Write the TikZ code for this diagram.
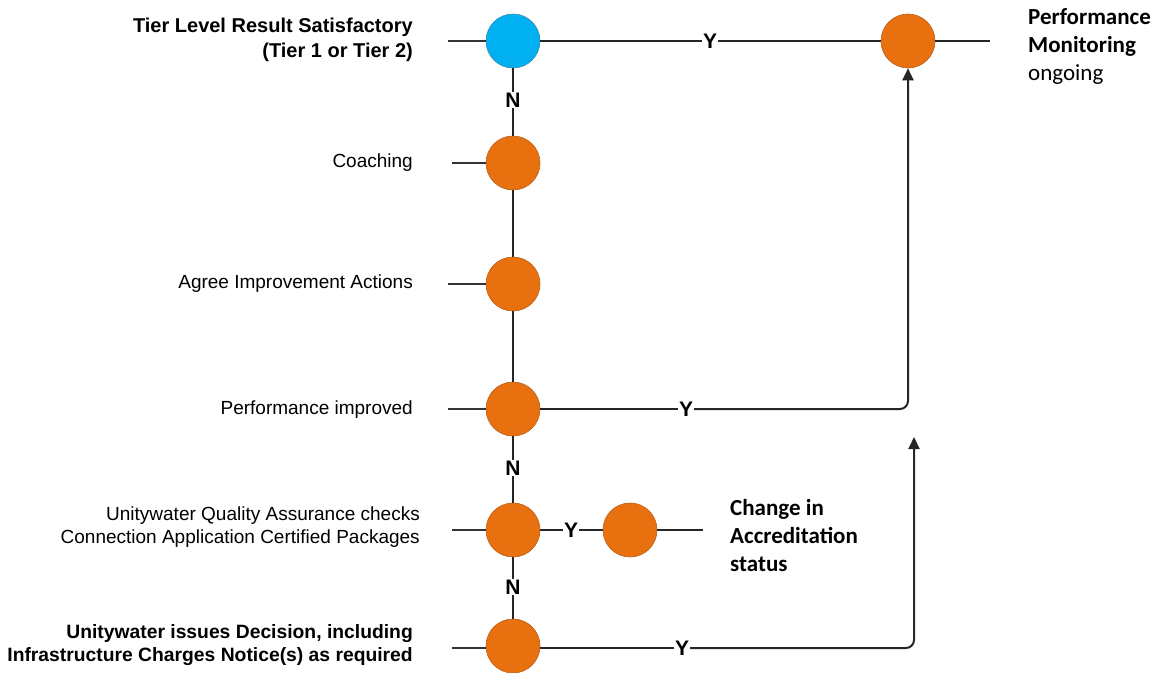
\documentclass[tikz,border=0pt]{standalone}
\usepackage{fontspec}
\setmainfont{Liberation Sans}
\newfontfamily\calibri{Carlito}
\usetikzlibrary{arrows.meta}
\definecolor{orng}{HTML}{E8700E}
\definecolor{orngdk}{HTML}{B8601A}
\definecolor{sky}{HTML}{00B0F0}
\definecolor{skydk}{HTML}{3A8AB0}
\tikzset{
  dot/.style={circle, minimum size=54, inner sep=0, fill=orng, draw=orngdk, line width=0.6},
  bluedot/.style={dot, fill=sky, draw=skydk},
  lbl/.style={font=\fontsize{21}{24}\selectfont\bfseries, fill=white, inner sep=0.8, text height=14, text depth=0},
  ltxt/.style={font=\fontsize{19}{23}\selectfont, align=right, anchor=east, inner sep=0},
  ltxtb/.style={ltxt, font=\fontsize{19.3}{23}\selectfont\bfseries},
  rtxt/.style={font=\calibri\fontsize{23}{28}\selectfont, align=left, anchor=west, inner sep=0},
  conn/.style={line width=2, draw=black!85},
  stub/.style={line width=1.6, draw=black!80},
  arr/.style={conn, rounded corners=8, -{Triangle[length=12, width=11]}},
}
\begin{document}
\begin{tikzpicture}[x=1pt, y=-1pt]
\useasboundingbox (0,0) rectangle (1159,672);
% nodes
\node[bluedot] (tier) at (513,41) {};
\node[dot] (pm) at (908,41) {};
\node[dot] (coach) at (513,163) {};
\node[dot] (agree) at (513,284) {};
\node[dot] (pi) at (513,409) {};
\node[dot] (qa) at (513,530) {};
\node[dot] (chg) at (630,530) {};
\node[dot] (dec) at (513,646) {};
% labels on connectors
\node[lbl] (y1) at (710,41) {Y};
\node[lbl] (n1) at (513,100) {N};
\node[lbl] (y2) at (686,409) {Y};
\node[lbl] (n2) at (513,468) {N};
\node[lbl] (y3) at (571,530) {Y};
\node[lbl] (n3) at (513,587) {N};
\node[lbl] (y4) at (682,648) {Y};
% stub coordinates
\coordinate (tl) at (448,41);
\coordinate (tr) at (990,41);
\coordinate (cl) at (452,163);
\coordinate (al) at (448,284);
\coordinate (pl) at (448,409);
\coordinate (ql) at (452,530);
\coordinate (cr) at (703,530);
\coordinate (dl) at (452,648);
\coordinate (decend) at (914,437);
% texts
\node[ltxtb, font=\fontsize{20}{25}\selectfont\bfseries] (tiert) at (413,40) {Tier Level Result Satisfactory\\(Tier 1 or Tier 2)};
\node[ltxt] (coacht) at (413,163) {Coaching};
\node[ltxt] (agreet) at (413,284) {Agree Improvement Actions};
\node[ltxt] (pit) at (413,410) {Performance improved};
\node[ltxt] (qat) at (420,527) {Unitywater Quality Assurance checks\\Connection Application Certified Packages};
\node[ltxtb] (dect) at (413,645) {Unitywater issues Decision, including\\Infrastructure Charges Notice(s) as required};
\node[rtxt] (chgt) at (730,536) {\textbf{Change in}\\\textbf{Accreditation}\\\textbf{status}};
\node[rtxt] (pmt) at (1028,46) {\textbf{Performance}\\\textbf{Monitoring}\\ongoing};
% connectors
\draw[stub] (tl) -- (tier);
\draw[conn] (tier) -- (y1) -- (pm);
\draw[conn] (pm) -- (tr);
\draw[conn] (tier) -- (n1) -- (coach) -- (agree) -- (pi) -- (n2) -- (qa) -- (n3) -- (dec);
\draw[stub] (cl) -- (coach);
\draw[stub] (al) -- (agree);
\draw[stub] (pl) -- (pi);
\draw[stub] (ql) -- (qa);
\draw[stub] (dl) -- (dec.west |- dl);
\draw[conn] (qa) -- (y3) -- (chg);
\draw[conn] (chg) -- (cr);
\draw[conn] (pi) -- (y2);
\draw[arr] (y2) -| (pm.south);
\draw[conn] (dec.east |- dl) -- (y4);
\draw[arr] (y4) -| (decend);
\end{tikzpicture}
\end{document}
